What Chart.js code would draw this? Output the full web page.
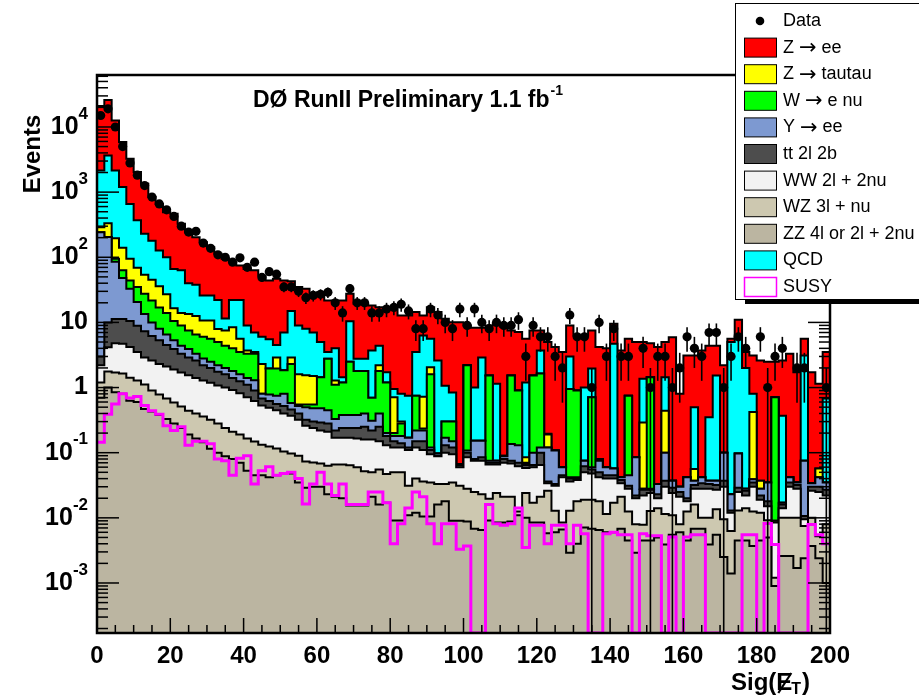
<!DOCTYPE html>
<html>
<head>
<meta charset="utf-8">
<script src="https://cdn.jsdelivr.net/npm/chart.js@4.4.1/dist/chart.umd.min.js"></script>
<style>
  html, body { margin: 0; padding: 0; background: #fff; }
  canvas { display: block; }
</style>
</head>
<body>
<canvas id="chart" width="919" height="696"></canvas>
<script>
// Sig(MET) distribution, 100 bins of width 2 from 0 to 200
const binWidth = 2;
const xTickLabels = [0, 20, 40, 60, 80, 100, 120, 140, 160, 180, 200];
const yDecades = [-3, -2, -1, 0, 1, 2, 3, 4];
const yFloor = 1.707e-4;
const yCeil = 6.28e4;

// observed events per bin (null = empty bin)
const dataCounts = [
  15000, 19000, 10000, 5000, 2800, 1820, 1260, 840, 660, 535,
  423, 300, 244, 250, 165, 137, 109, 100, 84, 98,
  70, 84, 49, 60, 55, 35, 35, 30, 24, 26,
  27, 29, 20, 14, 33, 20, 20, 14, 14, 16,
  17, 19, 15, 8, 8, 16, 13, 10, 8, 16,
  9, 16, 10, 8, 10, 9, 9, 11, 3, 9,
  6, 6, 3, 2, 13, 6, 6, 1, 10, 3,
  8, 3, 3, null, 4, 1, 3, 3, 1, 2,
  6, 4, 3, 7, 7, 1, 3, 6, 4, null,
  6, 1, 3, 4, null, 2, 2, null, null, 1
];

// signal expectation (not stacked)
const susy = [
  0.145, 0.39, 0.56, 0.80, 0.69, 0.73, 0.53, 0.44, 0.39, 0.26,
  0.22, 0.25, 0.13, 0.15, 0.15, 0.137, 0.08, 0.075, 0.045, 0.082,
  0.09, 0.033, 0.053, 0.061, 0.045, 0.048, 0.05, 0.04, 0.0163, 0.033,
  0.05, 0.033, 0.022, 0.033, 0.016, 0.016, 0.016, 0.025, 0.025, 0.017,
  0.004, 0.0081, 0.0141, 0.025, 0.021, 0.0081, 0.004, 0.0081, 0.0081, 0.0033,
  0.0037, 0, 0, 0.016, 0.0081, 0.0077, 0.0081, 0.0141, 0.0035, 0.0077,
  0.0077, 0.004, 0.0077, 0.0077, 0.004, 0.0077, 0.0057, 0, 0, 0.0057,
  0.006, 0.0055, 0.0055, 0, 0.0057, 0.0053, 0.0053, 0, 0.0051, 0,
  0.0051, 0.0055, 0.0055, 0, 0, 0, 0, 0, 0.0055, 0.0055,
  0, 0.0082, 0.0039, 0, 0, 0, 0, 0.0079, 0.0055, 0.004
];

// background stack heights (cumulative), bottom layer first
const zzStack = [
  0.7, 1.0, 0.85, 0.8, 0.63, 0.6, 0.47, 0.43, 0.38, 0.33,
  0.28, 0.24, 0.19, 0.165, 0.145, 0.115, 0.1, 0.088, 0.08, 0.07,
  0.053, 0.045, 0.045, 0.042, 0.045, 0.047, 0.048, 0.035, 0.029, 0.03,
  0.03, 0.023, 0.021, 0.020, 0.0155, 0.0155, 0.0155, 0.021, 0.016, 0.017,
  0.0091, 0.0091, 0.011, 0.012, 0.0105, 0.0105, 0.016, 0.018, 0.009, 0.009,
  0.0088, 0.0068, 0.0065, 0.0091, 0.0085, 0.0085, 0.0088, 0.011, 0.010, 0.0085,
  0.0085, 0.0058, 0.006, 0.0066, 0.0029, 0.004, 0.0071, 0.0068, 0.0065, 0.006,
  0.006, 0.0068, 0.0045, 0.0029, 0.0045, 0.0045, 0.005, 0.0039, 0.0055, 0.006,
  0.0045, 0.0068, 0.0068, 0.0039, 0.0055, 0.0025, 0.0014, 0.0045, 0.0045, 0.0037,
  0.0045, 0.005, 0.0009, 0.0026, 0.0026, 0.0017, 0.0024, 0.0037, 0.0024, 0.001
];
const wzStack = [
  1.2, 1.76, 1.7, 1.64, 1.42, 1.28, 1.11, 0.9, 0.78, 0.68,
  0.59, 0.51, 0.44, 0.40, 0.36, 0.32, 0.28, 0.24, 0.21, 0.19,
  0.165, 0.148, 0.133, 0.124, 0.116, 0.104, 0.097, 0.090, 0.073, 0.071,
  0.068, 0.063, 0.066, 0.066, 0.064, 0.060, 0.052, 0.050, 0.055, 0.047,
  0.050, 0.050, 0.031, 0.040, 0.036, 0.035, 0.033, 0.033, 0.035, 0.031,
  0.028, 0.025, 0.023, 0.0197, 0.024, 0.021, 0.021, 0.0125, 0.024, 0.017,
  0.021, 0.026, 0.0128, 0.0085, 0.0128, 0.018, 0.019, 0.019, 0.018, 0.0115,
  0.017, 0.021, 0.0125, 0.008, 0.0078, 0.0127, 0.014, 0.0115, 0.011, 0.008,
  0.0125, 0.016, 0.010, 0.010, 0.0136, 0.0095, 0.0063, 0.013, 0.014, 0.0125,
  0.012, 0.0092, 0.0012, 0.010, 0.010, 0.010, 0.0075, 0.010, 0.0052, 0.008
];
const wwStack = [
  2.2, 4.16, 4.8, 4.7, 4.2, 3.5, 2.9, 2.6, 2.3, 2.1,
  1.9, 1.7, 1.55, 1.4, 1.28, 1.18, 1.08, 1.0, 0.92, 0.82,
  0.71, 0.62, 0.53, 0.49, 0.45, 0.40, 0.37, 0.32, 0.26, 0.24,
  0.22, 0.21, 0.17, 0.17, 0.17, 0.165, 0.16, 0.16, 0.15, 0.13,
  0.12, 0.12, 0.11, 0.12, 0.11, 0.095, 0.088, 0.1, 0.095, 0.06,
  0.085, 0.075, 0.075, 0.066, 0.066, 0.07, 0.068, 0.062, 0.058, 0.06,
  0.065, 0.034, 0.031, 0.042, 0.036, 0.038, 0.05, 0.048, 0.042, 0.04,
  0.04, 0.034, 0.028, 0.02, 0.022, 0.024, 0.02, 0.03, 0.024, 0.021,
  0.018, 0.028, 0.028, 0.028, 0.027, 0.03, 0.012, 0.025, 0.022, 0.03,
  0.019, 0.015, 0.0085, 0.014, 0.03, 0.028, 0.0095, 0.026, 0.025, 0.022
];
const ttStack = [
  3.0, 10, 11.3, 11.3, 10.5, 8.9, 7.3, 6.2, 5.3, 4.5,
  3.9, 3.3, 2.9, 2.6, 2.2, 2.0, 1.75, 1.6, 1.4, 1.25,
  1.1, 0.9, 0.68, 0.62, 0.56, 0.52, 0.46, 0.40, 0.32, 0.30,
  0.29, 0.28, 0.22, 0.24, 0.24, 0.24, 0.25, 0.22, 0.25, 0.18,
  0.15, 0.14, 0.12, 0.15, 0.15, 0.11, 0.09, 0.13, 0.12, 0.065,
  0.1, 0.08, 0.085, 0.07, 0.07, 0.08, 0.075, 0.07, 0.065, 0.065,
  0.1, 0.036, 0.033, 0.045, 0.04, 0.04, 0.062, 0.055, 0.05, 0.045,
  0.045, 0.038, 0.031, 0.022, 0.027, 0.027, 0.023, 0.037, 0.029, 0.025,
  0.02, 0.032, 0.034, 0.033, 0.032, 0.037, 0.013, 0.029, 0.026, 0.035,
  0.022, 0.018, 0.009, 0.016, 0.035, 0.032, 0.0107, 0.03, 0.03, 0.027
];
const upsStack = [
  243, 204, 85, 48, 33, 20.5, 13.5, 10, 8, 6.5,
  5.3, 4.4, 3.9, 3.3, 2.8, 2.5, 2.2, 2.0, 1.8, 1.6,
  1.4, 1.3, 0.8, 0.78, 0.75, 0.8, 0.58, 0.52, 0.5, 0.48,
  0.48, 0.45, 0.33, 0.38, 0.38, 0.38, 0.4, 0.31, 0.4, 0.2,
  0.18, 0.18, 0.17, 0.22, 0.22, 0.12, 0.097, 0.17, 0.15, 0.066,
  0.108, 0.153, 0.153, 0.075, 0.075, 0.088, 0.136, 0.13, 0.068, 0.1,
  0.12, 0.12, 0.108, 0.06, 0.042, 0.042, 0.075, 0.06, 0.075, 0.06,
  0.057, 0.042, 0.045, 0.085, 0.028, 0.028, 0.033, 0.1, 0.037, 0.03,
  0.042, 0.037, 0.042, 0.037, 0.037, 0.1, 0.023, 0.097, 0.028, 0.039,
  0.028, 0.035, 0.009, 0.017, 0.042, 0.035, 0.075, 0.034, 0.042, 0.035
];
const wenuStack = [
  243, 204, 95, 63, 44, 35, 27.5, 21.7, 17, 14,
  10.5, 9, 7.5, 6.5, 6.0, 5.6, 5.0, 4.4, 4.0, 3.5,
  3.3, 3.3, 0.8, 1.96, 1.96, 1.85, 2.3, 0.55, 0.55, 0.55,
  1.44, 2.76, 1.1, 1.2, 2.5, 1.8, 1.8, 0.7, 1.8, 1.2,
  0.2, 0.28, 0.17, 0.75, 0.235, 1.6, 0.097, 0.3, 0.3, 0.066,
  2.2, 0.153, 0.153, 1.53, 0.075, 0.088, 1.53, 0.9, 0.07, 1.53,
  1.64, 0.12, 0.108, 0.06, 0.95, 0.9, 0.075, 0.71, 0.08, 0.06,
  0.057, 0.042, 0.75, 0.085, 0.028, 1.44, 0.033, 0.1, 0.037, 0.03,
  0.042, 0.037, 0.042, 0.037, 0.037, 0.1, 0.023, 0.097, 0.028, 0.039,
  0.028, 0.035, 0.71, 0.017, 0.042, 0.035, 0.075, 0.034, 0.042, 0.035
];
const zttStack = [
  290, 333, 195, 140, 95, 69, 54, 45, 36, 27,
  16.5, 14, 13.5, 12.5, 10.7, 10.7, 7.9, 7.5, 8.4, 5.6,
  3.7, 3.5, 2.3, 1.96, 2.9, 1.85, 2.9, 1.6, 1.55, 1.5,
  1.44, 2.76, 1.28, 1.2, 2.5, 1.8, 1.8, 0.7, 2.2, 1.2,
  0.71, 0.3, 0.17, 0.75, 0.72, 2.05, 0.097, 0.3, 0.3, 0.066,
  2.2, 0.153, 0.153, 1.53, 0.075, 0.09, 1.53, 0.9, 0.085, 1.53,
  1.64, 0.19, 0.108, 0.06, 0.95, 0.9, 0.075, 0.71, 0.08, 0.06,
  0.057, 0.042, 0.75, 0.085, 0.29, 1.44, 0.033, 0.44, 0.037, 0.03,
  0.042, 0.056, 0.042, 0.037, 0.037, 0.1, 0.023, 0.097, 0.028, 0.42,
  0.037, 0.035, 0.71, 0.017, 0.042, 0.035, 0.075, 0.034, 0.057, 0.035
];
const qcdStack = [
  2150, 3650, 2150, 1200, 660, 370, 230, 180, 127, 100,
  66, 63, 40, 38, 26, 26, 22, 11.5, 22, 22,
  9, 7, 6, 5.5, 4.5, 7, 15, 9, 8, 7,
  5, 3.5, 4, 1.44, 10.4, 2.76, 2.76, 3.7, 4.4, 1.72,
  0.95, 0.8, 0.75, 3.5, 6.3, 5.6, 2.6, 1.07, 0.84, 0.067,
  2.2, 1.0, 2.9, 1.53, 1.14, 0.09, 1.53, 0.9, 1.2, 1.53,
  3.7, 0.195, 0.108, 0.06, 3.0, 0.9, 1.0, 1.96, 0.08, 0.06,
  4.7, 0.042, 0.75, 0.085, 1.36, 1.44, 0.033, 1.44, 0.037, 0.03,
  0.042, 0.5, 0.042, 0.35, 1.53, 0.1, 5.0, 6.3, 2.0, 0.8,
  0.037, 0.035, 0.71, 0.37, 0.042, 0.035, 3.1, 0.034, 0.057, 0.68
];
const zeeStack = [
  21000, 26000, 12600, 5870, 3250, 2030, 1340, 840, 660, 490,
  465, 326, 243, 203, 170, 143, 113, 95, 84, 75,
  66, 63, 52, 44, 47, 44, 43, 35, 33, 27.5,
  29, 21.7, 21.7, 21.7, 27.5, 19.3, 19.3, 18.2, 17.1, 16.2,
  17.1, 12.8, 12.8, 14.4, 12.8, 17.1, 14.4, 11.4, 10.1, 10.1,
  9.0, 8.3, 8.3, 9.0, 9.5, 8.6, 7.5, 7.1, 5.6, 7.5,
  7.5, 5.0, 4.2, 3.5, 9.0, 6.3, 6.3, 7.5, 4.2, 4.0,
  9.5, 3.7, 5.6, 5.0, 5.0, 4.8, 4.2, 5.0, 5.9, 0.8,
  3.1, 3.1, 3.7, 4.4, 4.4, 2.2, 5.6, 11, 3.5, 3.1,
  2.6, 2.5, 2.5, 2.6, 3.3, 1.72, 5.6, 1.72, 1.14, 3.5
];

const layers = [
  ['ZZ 4l or 2l + 2nu', zzStack, '#bbb5a1'],
  ['WZ 3l + nu', wzStack, '#cdc8b0'],
  ['WW 2l + 2nu', wwStack, '#f2f2f2'],
  ['tt 2l 2b', ttStack, '#4d4d4d'],
  ['Y \u2192 ee', upsStack, '#7d99d1'],
  ['W \u2192 e nu', wenuStack, '#00ff00'],
  ['Z \u2192 tautau', zttStack, '#ffff00'],
  ['QCD', qcdStack, '#00ffff'],
  ['Z \u2192 ee', zeeStack, '#ff0000']
];

const legendOrder = [
  'Z \u2192 ee', 'Z \u2192 tautau', 'W \u2192 e nu', 'Y \u2192 ee', 'tt 2l 2b',
  'WW 2l + 2nu', 'WZ 3l + nu', 'ZZ 4l or 2l + 2nu', 'QCD'
];

const FONT = '"Liberation Sans", Arial, Helvetica, sans-serif';

// histogram as step points: one point per bin edge
function stepPoints(vals) {
  const pts = vals.map((v, i) => ({ x: i * binWidth, y: v > 0 ? v : yFloor }));
  pts.push({ x: vals.length * binWidth, y: pts[pts.length - 1].y });
  return pts;
}

// keep every stack level at least as high as the one under it
let below = null;
const stacked = layers.map(([label, vals, color]) => {
  const tops = vals.map((v, i) => below ? Math.max(v, below[i]) : v);
  below = tops;
  return { label, tops, color };
});

const histSets = stacked.map(s => ({
  type: 'line',
  label: s.label,
  data: stepPoints(s.tops),
  stepped: true,
  fill: 'start',
  backgroundColor: s.color,
  borderColor: '#000',
  borderWidth: 2,
  borderJoinStyle: 'miter',
  pointRadius: 0
}));

const dataSet = {
  type: 'line',
  label: 'Data',
  data: dataCounts.map((n, i) => ({ x: (i + 0.5) * binWidth, y: n })),
  showLine: false,
  pointRadius: 4.6,
  pointBackgroundColor: '#000',
  pointBorderWidth: 0
};

const susySet = {
  type: 'line',
  label: 'SUSY',
  data: stepPoints(susy),
  stepped: true,
  fill: false,
  borderColor: '#ff00ff',
  borderWidth: 3,
  borderJoinStyle: 'miter',
  pointRadius: 0
};

function line(ctx, x1, y1, x2, y2) {
  ctx.beginPath();
  ctx.moveTo(x1, y1);
  ctx.lineTo(x2, y2);
  ctx.stroke();
}

// legend text; the arrow comes from DejaVu, which has a full-size glyph
function drawLabel(ctx, text, x, y) {
  const parts = text.split('\u2192');
  ctx.font = '18px ' + FONT;
  ctx.fillText(parts[0], x, y);
  if (parts.length === 1) return;
  x += ctx.measureText(parts[0]).width;
  ctx.font = '21px "DejaVu Sans", sans-serif';
  ctx.fillText('\u2192', x, y + 1);
  x += ctx.measureText('\u2192').width;
  ctx.font = '18px ' + FONT;
  ctx.fillText(parts[1], x, y);
}

const errorBars = {
  id: 'errorBars',
  afterDatasetsDraw(chart) {
    const { ctx, scales: { x, y } } = chart;
    ctx.save();
    ctx.strokeStyle = '#000';
    ctx.lineWidth = 1.6;
    dataCounts.forEach((n, i) => {
      if (n == null) return;
      const err = Math.sqrt(n);
      const lo = n - err > 0 ? n - err : yFloor;
      const px = x.getPixelForValue((i + 0.5) * binWidth);
      line(ctx, px, y.getPixelForValue(lo), px, y.getPixelForValue(n + err));
    });
    ctx.restore();
  }
};

const frameAxes = {
  id: 'frameAxes',
  afterDatasetsDraw(chart) {
    const { ctx, chartArea: { left, right, top, bottom }, scales: { x, y } } = chart;
    ctx.save();
    ctx.strokeStyle = '#000';
    ctx.lineWidth = 1.5;
    for (let v = 0; v <= 200; v += 5) {
      const px = x.getPixelForValue(v);
      line(ctx, px, bottom, px, bottom - (v % 20 === 0 ? 15 : 8));
    }
    for (let e = -4; e <= 4; e++) {
      for (let m = 1; m < 10; m++) {
        const v = m * Math.pow(10, e);
        if (v < yFloor || v > yCeil) continue;
        const py = y.getPixelForValue(v);
        const len = m === 1 ? 22 : 11;
        line(ctx, left, py, left + len, py);
        line(ctx, right, py, right - len, py);
      }
    }
    ctx.lineWidth = 2.5;
    ctx.strokeRect(left, top, right - left, bottom - top);

    // tick labels
    ctx.fillStyle = '#000';
    ctx.textBaseline = 'middle';
    ctx.textAlign = 'center';
    ctx.font = 'bold 24px ' + FONT;
    xTickLabels.forEach(v => ctx.fillText(String(v), x.getPixelForValue(v), bottom + 23));

    yDecades.forEach(e => {
      const py = y.getPixelForValue(Math.pow(10, e));
      const xr = left - 9;
      ctx.textAlign = 'right';
      if (e === 0 || e === 1) {
        ctx.font = 'bold 25px ' + FONT;
        ctx.fillText(e === 0 ? '1' : '10', xr, py);
        return;
      }
      ctx.font = 'bold 17px ' + FONT;
      const exp = String(e);
      const ew = ctx.measureText(exp).width;
      ctx.fillText(exp, xr, py - 13);
      ctx.font = 'bold 25px ' + FONT;
      ctx.fillText('10', xr - ew, py);
    });
    ctx.restore();
  }
};

const annotations = {
  id: 'annotations',
  afterDraw(chart) {
    const { ctx } = chart;
    ctx.save();
    ctx.fillStyle = '#000';
    ctx.strokeStyle = '#000';
    ctx.textBaseline = 'middle';

    // title inside the frame
    ctx.textAlign = 'left';
    ctx.font = 'bold 23px ' + FONT;
    const title = 'D\u00d8 RunII Preliminary 1.1 fb';
    ctx.fillText(title, 253, 101);
    const tw = ctx.measureText(title).width;
    ctx.font = 'bold 14px ' + FONT;
    ctx.fillText('-1', 253 + tw + 1, 91);

    // y axis title
    ctx.save();
    ctx.translate(33, 154);
    ctx.rotate(-Math.PI / 2);
    ctx.textAlign = 'center';
    ctx.font = 'bold 24px ' + FONT;
    ctx.fillText('Events', 0, 0);
    ctx.restore();

    // x axis title: Sig(E-slash T)
    ctx.textAlign = 'left';
    ctx.font = 'bold 24px ' + FONT;
    let xp = 731;
    const yp = 683;
    ctx.fillText('Sig(', xp, yp);
    xp += ctx.measureText('Sig(').width;
    ctx.fillText('E', xp, yp);
    const ewid = ctx.measureText('E').width;
    ctx.lineWidth = 2.2;
    line(ctx, xp + 2, yp + 10, xp + ewid - 1, yp - 10);
    xp += ewid;
    ctx.font = 'bold 16px ' + FONT;
    ctx.fillText('T', xp - 1, yp + 7);
    xp += ctx.measureText('T').width - 1;
    ctx.font = 'bold 24px ' + FONT;
    ctx.fillText(')', xp + 1, yp);

    // legend box with drop shadow
    const lx = 735, ly = 3, lw = 190, lh = 296;
    ctx.fillStyle = '#000';
    ctx.fillRect(lx + 10, ly + lh, lw, 5);
    ctx.fillStyle = '#fff';
    ctx.fillRect(lx, ly, lw, lh);
    ctx.lineWidth = 1;
    ctx.strokeStyle = '#000';
    ctx.strokeRect(lx + 0.5, ly + 0.5, lw, lh);

    const rowY = k => 21 + 26.6 * k;
    ctx.textAlign = 'left';
    ctx.fillStyle = '#000';
    ctx.beginPath();
    ctx.arc(760, rowY(0), 4.3, 0, Math.PI * 2);
    ctx.fill();
    drawLabel(ctx, 'Data', 783, rowY(0));

    legendOrder.forEach((label, k) => {
      const s = stacked.find(d => d.label === label);
      const cy = rowY(k + 1);
      ctx.fillStyle = s.color;
      ctx.fillRect(744, cy - 9.5, 32, 19);
      ctx.strokeStyle = '#000';
      ctx.lineWidth = 1;
      ctx.strokeRect(744.5, cy - 9.5, 32, 19);
      ctx.fillStyle = '#000';
      drawLabel(ctx, label, 783, cy);
    });

    const cs = rowY(10);
    ctx.fillStyle = '#fff';
    ctx.fillRect(744, cs - 9.5, 32, 19);
    ctx.strokeStyle = '#ff00ff';
    ctx.lineWidth = 1.5;
    ctx.strokeRect(744.5, cs - 9.5, 32, 19);
    ctx.fillStyle = '#000';
    drawLabel(ctx, 'SUSY', 783, cs);
    ctx.restore();
  }
};

const ctx = document.getElementById('chart').getContext('2d');
new Chart(ctx, {
  type: 'line',
  data: { datasets: [dataSet, susySet, ...histSets] },
  options: {
    responsive: false,
    animation: false,
    devicePixelRatio: 1,
    layout: { padding: { left: 97, right: 89, top: 75, bottom: 63 } },
    scales: {
      x: { type: 'linear', min: 0, max: 200, display: false },
      y: { type: 'logarithmic', min: yFloor, max: yCeil, display: false }
    },
    plugins: {
      legend: { display: false },
      tooltip: { enabled: false }
    }
  },
  plugins: [errorBars, frameAxes, annotations]
});
</script>
</body>
</html>
